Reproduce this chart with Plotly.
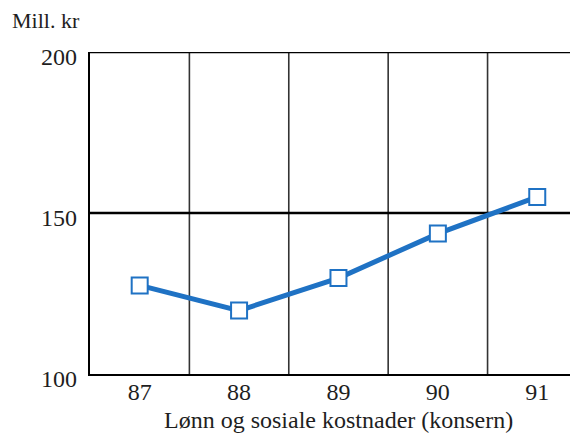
import plotly.graph_objects as go

years = [87, 88, 89, 90, 91]
year_labels = ["87", "88", "89", "90", "91"]
values = [127.5, 119.7, 129.8, 143.6, 155.0]
y_ticks = [100, 150, 200]
x_title = "Lønn og sosiale kostnader (konsern)"
y_title = "Mill. kr"

font = "Liberation Serif, Times New Roman, serif"
blue = "#1f72c4"
txt = "#1e1e1e"

fig = go.Figure()
fig.add_trace(go.Scatter(
    x=years, y=values, mode="lines+markers",
    line=dict(color=blue, width=5),
    marker=dict(symbol="square", size=16, color="white", line=dict(color=blue, width=2)),
    showlegend=False, hoverinfo="skip", cliponaxis=False,
))

shapes = []
for b in [y + 0.5 for y in years[:-1]]:
    shapes.append(dict(type="line", xref="x", yref="paper", x0=b, x1=b, y0=0, y1=1,
                       line=dict(color="#333333", width=1.6), layer="below"))
for t in y_ticks[1:]:
    shapes.append(dict(type="line", xref="paper", yref="y", x0=0, x1=1, y0=t, y1=t,
                       line=dict(color="black", width=2.4), layer="below"))

fig.update_layout(
    width=578, height=435,
    margin=dict(l=82, r=8, t=44, b=69),
    paper_bgcolor="white", plot_bgcolor="white",
    font=dict(family=font, size=24, color=txt),
    shapes=shapes,
    xaxis=dict(range=[86.5, 91.41], tickvals=years, ticktext=year_labels,
               showgrid=False, zeroline=False, showline=True, linecolor="black", linewidth=2.4,
               ticks="", ticklabelstandoff=-5),
    yaxis=dict(range=[100, 200], tickvals=y_ticks, showgrid=False, zeroline=False,
               showline=True, linecolor="black", linewidth=2.4, ticks="",
               ticklabelstandoff=6, ticklabelshift=5),
    annotations=[
        dict(text=y_title, xref="paper", yref="paper", x=-0.164, y=1.0, yshift=32,
             xanchor="left", yanchor="middle", showarrow=False,
             font=dict(family=font, size=22, color=txt)),
        dict(text=x_title, xref="paper", yref="paper", x=0.509, y=0.0, yshift=-46,
             xanchor="center", yanchor="middle", showarrow=False,
             font=dict(family=font, size=24, color=txt)),
    ],
)
fig.write_html("out.html")
